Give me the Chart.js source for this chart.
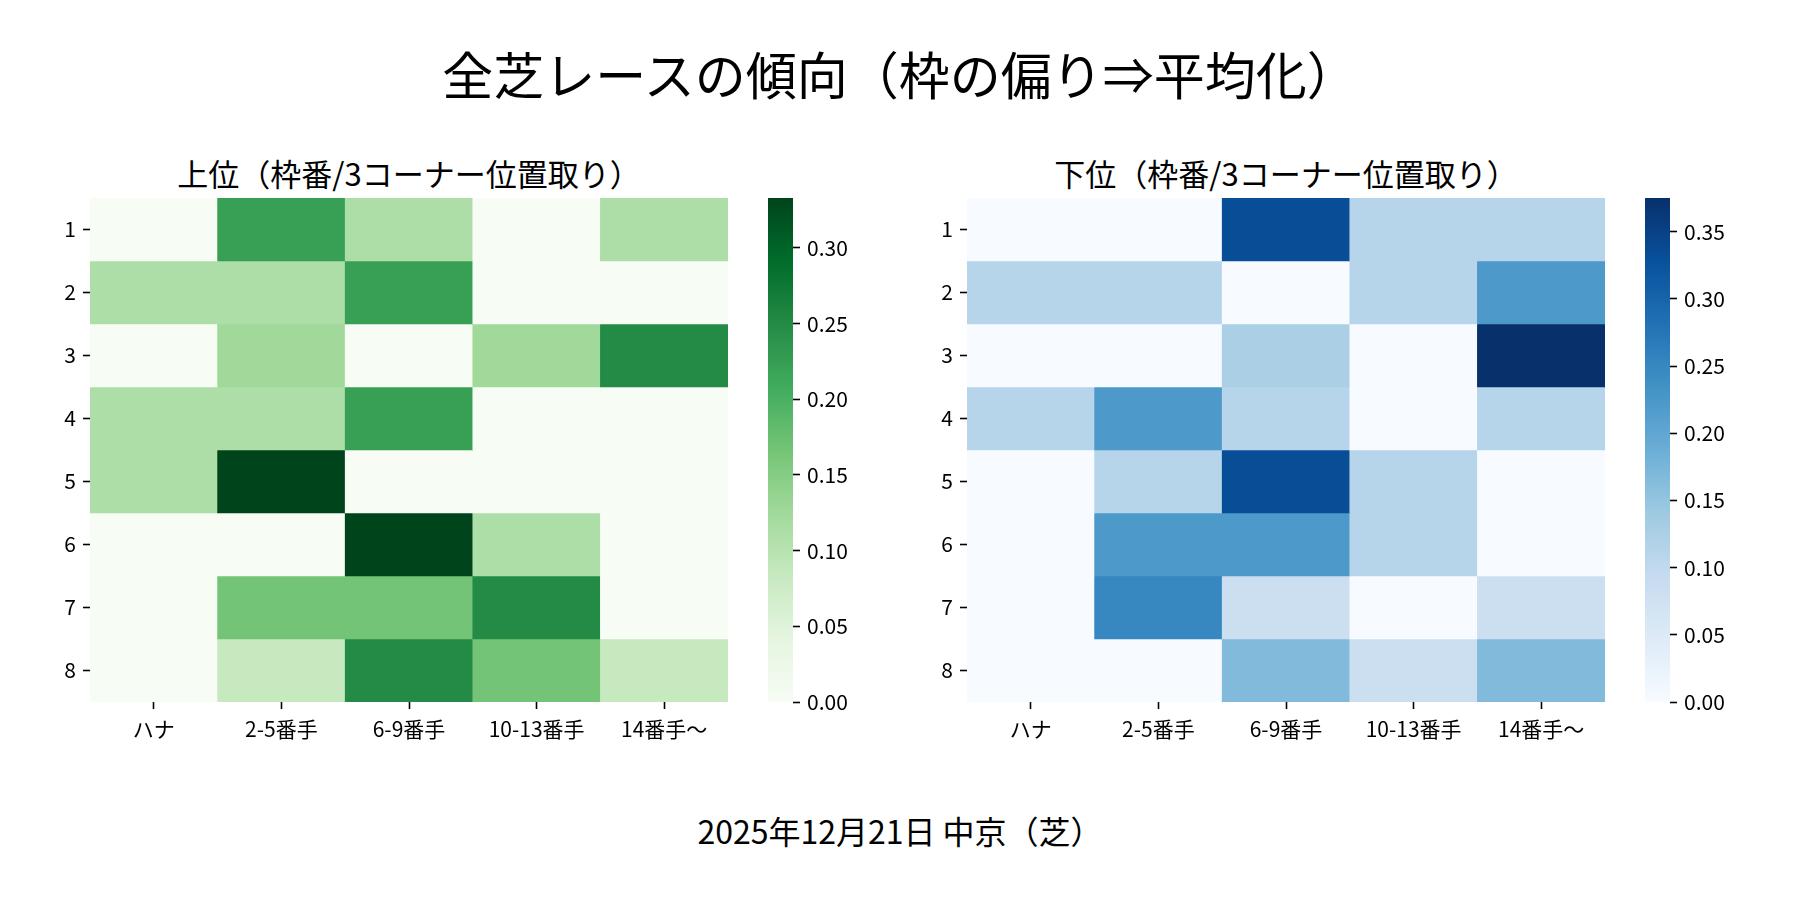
<!DOCTYPE html>
<html>
<head>
<meta charset="utf-8">
<script src="https://cdn.jsdelivr.net/npm/chart.js@4.4.1/dist/chart.umd.min.js"></script>
<style>
  body { margin: 0; background: #fff; }
  #page { position: relative; width: 1800px; height: 900px; background: #fff; font-family: "Noto Sans CJK JP", sans-serif; color: #000; }
  .txt { position: absolute; text-align: center; white-space: nowrap; line-height: 1; }
  .box { position: absolute; }
</style>
</head>
<body>
<div id="page">
  <div class="txt" id="suptitle" style="left:0; width:1800px; top:48px; font-size:51px;"></div>
  <div class="txt" id="titleTop" style="left:90px; width:638px; top:157px; font-size:31px;"></div>
  <div class="txt" id="titleBottom" style="left:967px; width:638px; top:157px; font-size:31px;"></div>
  <div class="txt" id="footer" style="left:0; width:1800px; top:814px; font-size:32px;"></div>

  <div class="box" style="left:0px; top:183px; width:728px; height:579px;"><canvas id="heatTop"></canvas></div>
  <div class="box" style="left:768px; top:183px; width:105px; height:534px;"><canvas id="cbarTop"></canvas></div>
  <div class="box" style="left:877px; top:183px; width:728px; height:579px;"><canvas id="heatBottom"></canvas></div>
  <div class="box" style="left:1645px; top:183px; width:105px; height:534px;"><canvas id="cbarBottom"></canvas></div>
</div>
<script>
// Texts
const mainTitle = '全芝レースの傾向（枠の偏り⇒平均化）';
const topTitle = '上位（枠番/3コーナー位置取り）';
const bottomTitle = '下位（枠番/3コーナー位置取り）';
const footerText = '2025年12月21日 中京（芝）';

// Rows = 枠番, columns = 3コーナー位置取り
const rowLabels = ['1', '2', '3', '4', '5', '6', '7', '8'];
const colLabels = ['ハナ', '2-5番手', '6-9番手', '10-13番手', '14番手～'];

// 上位 share per cell
const topValues = [
    [0,     0.222, 0.111, 0,     0.111],
    [0.111, 0.111, 0.222, 0,     0],
    [0,     0.125, 0,     0.125, 0.25],
    [0.111, 0.111, 0.222, 0,     0],
    [0.111, 0.333, 0,     0,     0],
    [0,     0,     0.333, 0.111, 0],
    [0,     0.167, 0.167, 0.25,  0],
    [0,     0.083, 0.25,  0.167, 0.083]
];

// 下位 share per cell
const bottomValues = [
    [0,     0,     0.333, 0.111, 0.111],
    [0.111, 0.111, 0,     0.111, 0.222],
    [0,     0,     0.125, 0,     0.375],
    [0.111, 0.222, 0.111, 0,     0.111],
    [0,     0.111, 0.333, 0.111, 0],
    [0,     0.222, 0.222, 0.111, 0],
    [0,     0.25,  0.083, 0,     0.083],
    [0,     0,     0.167, 0.083, 0.167]
];

// Colorbar tick labels
const topTicks = [0, 0.05, 0.10, 0.15, 0.20, 0.25, 0.30];
const bottomTicks = [0, 0.05, 0.10, 0.15, 0.20, 0.25, 0.30, 0.35];

// Colormaps (same stops as matplotlib Greens / Blues)
const greens = ['#f7fcf5', '#e5f5e0', '#c7e9c0', '#a1d99b', '#74c476', '#41ab5d', '#238b45', '#006d2c', '#00441b'];
const blues = ['#f7fbff', '#deebf7', '#c6dbef', '#9ecae1', '#6baed6', '#4292c6', '#2171b5', '#08519c', '#08306b'];

const FONT = '"Noto Sans CJK JP", sans-serif';
Chart.defaults.font.family = FONT;
Chart.defaults.font.size = 21;
Chart.defaults.color = '#000';

document.getElementById('suptitle').textContent = mainTitle;
document.getElementById('titleTop').textContent = topTitle;
document.getElementById('titleBottom').textContent = bottomTitle;
document.getElementById('footer').textContent = footerText;

function hexToRgb(hex) {
    const n = parseInt(hex.slice(1), 16);
    return [(n >> 16) & 255, (n >> 8) & 255, n & 255];
}

// Linear interpolation along the colormap stops, t in [0, 1]
function cmap(stops, t) {
    t = Math.min(1, Math.max(0, t));
    const pos = t * (stops.length - 1);
    const i = Math.min(Math.floor(pos), stops.length - 2);
    const f = pos - i;
    const a = hexToRgb(stops[i]);
    const b = hexToRgb(stops[i + 1]);
    const c = a.map((v, k) => Math.round(v + (b[k] - v) * f));
    return `rgb(${c[0]},${c[1]},${c[2]})`;
}

const tickGrid = {
    display: true,
    drawOnChartArea: false,
    drawTicks: true,
    tickLength: 7,
    tickWidth: 1.6,
    tickColor: '#000'
};

// Heatmap: one floating-bar dataset per row, overlapping on the x axis
function makeHeatmap(canvasId, values, stops) {
    const vmax = Math.max(...values.flat());
    const datasets = values.map((row, i) => ({
        data: row.map(() => [i + 0.5, i + 1.5]),
        backgroundColor: row.map(v => cmap(stops, v / vmax)),
        borderWidth: 0,
        barPercentage: 1,
        categoryPercentage: 1
    }));

    return new Chart(document.getElementById(canvasId), {
        type: 'bar',
        data: { labels: colLabels, datasets: datasets },
        options: {
            responsive: true,
            maintainAspectRatio: false,
            animation: false,
            layout: { padding: { top: 15, right: 0, bottom: 0, left: 0 } },
            plugins: { legend: { display: false }, tooltip: { enabled: false } },
            scales: {
                x: {
                    type: 'category',
                    stacked: true,
                    offset: true,
                    grid: { ...tickGrid, offset: false },
                    border: { display: false },
                    ticks: { padding: 7, maxRotation: 0, autoSkip: false, color: '#000' },
                    afterFit: s => { s.height = 60; s.paddingLeft = 0; s.paddingRight = 0; }
                },
                y: {
                    type: 'linear',
                    min: 0.5,
                    max: rowLabels.length + 0.5,
                    reverse: true,
                    grid: tickGrid,
                    border: { display: false },
                    afterBuildTicks: s => { s.ticks = rowLabels.map((_, i) => ({ value: i + 1 })); },
                    ticks: { padding: 7, autoSkip: false, color: '#000', callback: v => rowLabels[v - 1] },
                    afterFit: s => { s.width = 90; s.paddingTop = 0; s.paddingBottom = 0; }
                }
            }
        }
    });
}

// Colorbar: a single floating bar from 0 to max with a gradient fill
function makeColorbar(canvasId, values, stops, ticks) {
    const vmax = Math.max(...values.flat());
    return new Chart(document.getElementById(canvasId), {
        type: 'bar',
        data: {
            labels: [''],
            datasets: [{
                data: [[0, vmax]],
                borderWidth: 0,
                barPercentage: 1,
                categoryPercentage: 1,
                backgroundColor: c => {
                    const area = c.chart.chartArea;
                    if (!area) return stops[0];
                    const g = c.chart.ctx.createLinearGradient(0, area.bottom, 0, area.top);
                    for (let k = 0; k <= 40; k++) g.addColorStop(k / 40, cmap(stops, k / 40));
                    return g;
                }
            }]
        },
        options: {
            responsive: true,
            maintainAspectRatio: false,
            animation: false,
            layout: { padding: { top: 15, right: 0, bottom: 15, left: 0 } },
            plugins: { legend: { display: false }, tooltip: { enabled: false } },
            scales: {
                x: { display: false },
                y: {
                    position: 'right',
                    min: 0,
                    max: vmax,
                    grid: tickGrid,
                    border: { display: false },
                    afterBuildTicks: s => { s.ticks = ticks.map(v => ({ value: v })); },
                    ticks: { padding: 7, autoSkip: false, color: '#000', callback: v => v.toFixed(2) },
                    afterFit: s => { s.width = 80; s.paddingTop = 0; s.paddingBottom = 0; }
                }
            }
        }
    });
}

makeHeatmap('heatTop', topValues, greens);
makeColorbar('cbarTop', topValues, greens, topTicks);
makeHeatmap('heatBottom', bottomValues, blues);
makeColorbar('cbarBottom', bottomValues, blues, bottomTicks);
</script>
</body>
</html>
